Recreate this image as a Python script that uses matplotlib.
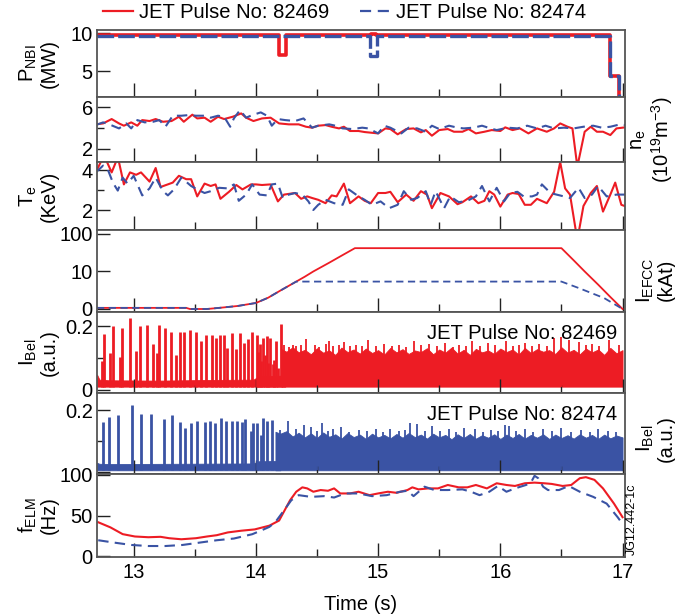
import numpy as np
import matplotlib
matplotlib.use('Agg')
import matplotlib.pyplot as plt
from matplotlib.lines import Line2D
from matplotlib.ticker import MultipleLocator, FixedLocator

plt.rcParams['font.family'] = ['Liberation Sans', 'DejaVu Sans']
plt.rcParams['mathtext.fontset'] = 'custom'
plt.rcParams['mathtext.rm'] = 'Liberation Sans'
plt.rcParams['mathtext.it'] = 'Liberation Sans:italic'

RED = '#ed1c24'
BLUE = '#3a53a4'
FS = 14.5

# ---------------- P_NBI (MW), step traces ----------------
pnbi_t_a = [12.70, 14.19, 14.25, 14.945, 14.985, 16.90, 16.97, 17.03]
pnbi_v_a = [9.7, 7.1, 9.7, 9.85, 9.7, 4.3, 1.0, 1.0]
pnbi_t_b = [12.70, 14.93, 14.99, 16.90, 16.97, 17.03]
pnbi_v_b = [9.55, 7.0, 9.55, 4.3, 1.0, 1.0]

# ---------------- n_e (1e19 m^-3) ----------------
ne_t_a = [12.69, 12.75, 12.82, 12.88, 12.92, 12.98, 13.03, 13.07, 13.13, 13.18,
          13.24, 13.31, 13.37, 13.41, 13.48, 13.52, 13.58, 13.63, 13.69, 13.74,
          13.81, 13.88, 13.92, 13.98, 14.05, 14.12, 14.19, 14.27, 14.35, 14.41,
          14.46, 14.51, 14.57, 14.62, 14.68, 14.72, 14.77, 14.84, 14.89, 15.00,
          15.06, 15.10, 15.16, 15.23, 15.29, 15.35, 15.39, 15.44, 15.50, 15.57,
          15.62, 15.69, 15.74, 15.80, 15.87, 15.93, 16.00, 16.04, 16.10, 16.16,
          16.23, 16.30, 16.38, 16.44, 16.49, 16.55, 16.59, 16.63, 16.69, 16.74,
          16.79, 16.84, 16.90, 16.95, 17.02]
ne_v_a = [4.37, 4.46, 4.88, 4.46, 4.24, 4.56, 4.24, 4.78, 4.69, 4.88,
          4.62, 4.69, 5.10, 4.62, 5.30, 4.94, 5.01, 4.62, 5.10, 4.88,
          5.10, 5.42, 5.01, 4.69, 4.94, 5.01, 4.46, 4.37, 4.37, 4.14,
          4.05, 4.24, 4.30, 4.14, 3.98, 4.14, 3.73, 3.73, 3.63, 3.50,
          3.98, 3.92, 3.41, 3.92, 3.98, 3.60, 3.82, 3.28, 3.82, 3.92,
          3.66, 3.66, 3.92, 3.50, 3.66, 3.82, 3.73, 4.08, 3.82, 3.98,
          3.50, 3.98, 3.66, 3.98, 4.46, 4.14, 3.98, 0.30, 3.66, 4.14,
          3.66, 3.66, 3.34, 3.98, 4.08]
ne_t_b = [12.69, 12.75, 12.80, 12.88, 12.94, 12.98, 13.03, 13.09, 13.16, 13.21,
          13.26, 13.32, 13.39, 13.45, 13.51, 13.58, 13.63, 13.69, 13.74, 13.79,
          13.82, 13.87, 13.92, 13.97, 14.04, 14.09, 14.13, 14.18, 14.24, 14.32,
          14.39, 14.46, 14.51, 14.60, 14.65, 14.71, 14.79, 14.87, 14.92, 15.00,
          15.05, 15.10, 15.19, 15.25, 15.32, 15.39, 15.44, 15.50, 15.58, 15.65,
          15.70, 15.78, 15.85, 15.92, 15.97, 16.06, 16.14, 16.22, 16.30, 16.37,
          16.44, 16.52, 16.60, 16.68, 16.76, 16.83, 16.90, 16.98, 17.02]
ne_v_b = [4.30, 4.56, 4.37, 3.98, 4.46, 3.98, 4.78, 4.56, 4.62, 4.78,
          4.14, 5.20, 5.20, 5.26, 5.20, 5.20, 5.01, 5.20, 5.10, 4.14,
          4.94, 5.74, 5.01, 5.26, 5.52, 5.20, 4.24, 4.88, 4.78, 4.69,
          4.94, 4.05, 4.24, 4.37, 4.24, 3.98, 3.92, 4.05, 3.98, 3.50,
          4.24, 4.05, 3.50, 4.05, 3.98, 3.66, 4.24, 3.92, 4.24, 4.05,
          3.98, 4.05, 4.24, 3.98, 3.82, 4.05, 3.98, 4.24, 3.98, 4.24,
          3.98, 4.05, 3.98, 4.14, 4.24, 4.05, 4.14, 4.37, 4.30]

# ---------------- T_e (keV) ----------------
te_t_a = [12.69, 12.73, 12.77, 12.82, 12.86, 12.88, 12.92, 12.97, 13.02, 13.06,
          13.13, 13.18, 13.22, 13.32, 13.37, 13.43, 13.47, 13.52, 13.58, 13.63,
          13.67, 13.71, 13.78, 13.84, 13.89, 13.96, 14.00, 14.05, 14.12, 14.18,
          14.23, 14.32, 14.37, 14.42, 14.46, 14.51, 14.57, 14.62, 14.66, 14.72,
          14.77, 14.84, 14.89, 14.94, 15.00, 15.06, 15.10, 15.16, 15.23, 15.29,
          15.35, 15.40, 15.44, 15.51, 15.58, 15.65, 15.69, 15.76, 15.82, 15.87,
          15.91, 15.95, 16.00, 16.06, 16.10, 16.15, 16.20, 16.25, 16.30, 16.38,
          16.44, 16.49, 16.53, 16.57, 16.63, 16.68, 16.74, 16.79, 16.84, 16.90,
          16.94, 16.99, 17.03]
te_v_a = [3.88, 4.39, 4.56, 3.88, 4.48, 4.39, 3.28, 3.88, 3.76, 3.88,
          3.42, 4.10, 3.15, 3.37, 3.71, 3.54, 3.54, 2.68, 3.32, 3.20,
          3.28, 2.56, 2.91, 3.25, 3.03, 3.28, 3.28, 3.25, 3.28, 2.43,
          2.77, 2.85, 2.56, 2.68, 2.60, 2.51, 2.34, 2.73, 2.68, 3.32,
          2.34, 2.68, 2.46, 2.34, 2.85, 2.85, 2.91, 2.39, 2.77, 2.46,
          2.94, 2.77, 2.09, 2.85, 2.68, 2.29, 2.39, 2.68, 2.34, 2.46,
          2.94, 2.77, 2.17, 2.77, 2.85, 2.80, 2.26, 2.26, 2.56, 2.34,
          2.91, 4.39, 3.08, 2.77, 0.50, 2.20, 2.85, 3.20, 1.92, 2.77,
          3.37, 2.26, 2.17]
te_t_b = [12.69, 12.75, 12.79, 12.83, 12.87, 12.91, 12.95, 13.00, 13.07, 13.13,
          13.18, 13.24, 13.28, 13.33, 13.39, 13.47, 13.52, 13.58, 13.63, 13.70,
          13.77, 13.82, 13.86, 13.92, 13.97, 14.03, 14.09, 14.13, 14.18, 14.22,
          14.27, 14.32, 14.38, 14.43, 14.47, 14.51, 14.57, 14.64, 14.71, 14.76,
          14.84, 14.89, 14.95, 15.02, 15.09, 15.16, 15.21, 15.27, 15.32, 15.39,
          15.43, 15.47, 15.54, 15.59, 15.66, 15.73, 15.80, 15.85, 15.91, 15.97,
          16.03, 16.08, 16.14, 16.19, 16.26, 16.30, 16.34, 16.41, 16.46, 16.52,
          16.57, 16.64, 16.69, 16.75, 16.80, 16.87, 16.95, 17.02]
te_v_b = [3.88, 4.22, 4.00, 3.37, 2.97, 3.62, 3.32, 3.71, 2.73, 3.08,
          3.62, 2.94, 2.73, 3.03, 3.62, 3.20, 3.03, 2.85, 2.94, 3.11,
          3.08, 3.28, 2.46, 2.77, 3.28, 2.77, 2.73, 3.28, 3.32, 2.60,
          2.77, 2.85, 2.77, 2.43, 2.00, 2.26, 2.51, 2.34, 2.26, 3.03,
          2.68, 2.51, 2.26, 2.43, 2.09, 2.26, 2.94, 2.51, 2.60, 2.94,
          2.26, 2.94, 2.09, 2.68, 2.39, 2.46, 2.68, 3.20, 2.43, 3.11,
          2.43, 2.85, 2.91, 2.68, 2.68, 2.77, 3.28, 2.85, 2.77, 2.68,
          2.60, 3.11, 2.60, 2.77, 3.20, 2.68, 2.77, 2.77]

# ---------------- I_EFCC (kAt) ----------------
efcc_t_a = [12.70, 13.43, 13.46, 13.60, 13.70, 13.85, 14.00, 14.10, 14.20, 14.33,
            14.40, 14.47, 14.60, 14.70, 14.81, 16.50, 16.60, 16.69, 16.80, 16.90, 17.00]
efcc_v_a = [0.3, 0.3, 0.0, 0.0, 0.3, 0.8, 1.6, 3.0, 4.9, 7.3,
            8.6, 10.0, 17.1, 26.2, 41.7, 41.7, 19.8, 10.0, 6.5, 3.2, 0.0]
efcc_t_b = [12.70, 13.43, 13.46, 13.60, 13.70, 13.85, 14.00, 14.10, 14.20, 14.33,
            16.50, 16.64, 16.85, 17.00]
efcc_v_b = [0.3, 0.3, 0.0, 0.0, 0.3, 0.8, 1.6, 3.0, 4.9, 7.3,
            7.3, 5.6, 2.9, 0.0]

# ---------------- I_Bel (a.u.) ----------------
# isolated type-I ELM spikes
elm_t_a = [12.742, 12.758, 12.804, 12.831, 12.889, 12.905, 12.970, 13.016, 13.052, 13.111,
           13.155, 13.188, 13.209, 13.256, 13.305, 13.348, 13.378, 13.413, 13.459, 13.508,
           13.549, 13.595, 13.639, 13.672, 13.704, 13.742, 13.767, 13.802, 13.840, 13.867,
           13.903, 13.933, 13.965, 14.006, 14.030, 14.058, 14.088, 14.115, 14.161, 14.202,
           14.015, 14.045, 14.075, 14.100, 14.140, 14.150, 14.180]
elm_v_a = [0.092, 0.176, 0.116, 0.200, 0.102, 0.195, 0.226, 0.123, 0.200, 0.203,
           0.144, 0.116, 0.205, 0.195, 0.181, 0.111, 0.182, 0.182, 0.189, 0.182,
           0.155, 0.172, 0.172, 0.163, 0.172, 0.174, 0.132, 0.179, 0.129, 0.179,
           0.147, 0.161, 0.182, 0.172, 0.144, 0.163, 0.168, 0.163, 0.153, 0.207,
           0.120, 0.090, 0.110, 0.085, 0.080, 0.095, 0.070]
elm_t_b = [12.753, 12.802, 12.872, 12.984, 13.057, 13.144, 13.245, 13.310, 13.375, 13.424,
           13.473, 13.522, 13.585, 13.628, 13.666, 13.718, 13.759, 13.808, 13.848, 13.884,
           13.914, 13.960, 13.976, 14.011, 14.039, 14.060, 14.090, 14.134]
elm_v_b = [0.162, 0.178, 0.183, 0.216, 0.187, 0.187, 0.170, 0.184, 0.162, 0.143,
           0.157, 0.166, 0.162, 0.166, 0.157, 0.176, 0.166, 0.166, 0.166, 0.162,
           0.172, 0.133, 0.157, 0.159, 0.119, 0.174, 0.166, 0.168]

# baseline band before the dense phase
base_t_a = [12.70, 12.72, 12.80, 13.20, 13.60, 13.98, 14.02, 14.24]
base_v_a = [0.048, 0.032, 0.030, 0.029, 0.031, 0.032, 0.042, 0.045]
base_t_b = [12.70, 12.72, 12.80, 13.40, 13.98, 14.02, 14.20]
base_v_b = [0.030, 0.027, 0.026, 0.027, 0.028, 0.035, 0.036]
floor_a = 0.010
floor_b = 0.006

# upper envelope of the dense small-ELM phase
dense_t_a = [14.21, 14.25, 14.30, 14.35, 14.40, 14.45, 14.50, 14.55, 14.60, 14.65,
             14.70, 14.75, 14.80, 14.85, 14.90, 14.95, 15.00, 15.05, 15.10, 15.15,
             15.20, 15.25, 15.30, 15.35, 15.40, 15.45, 15.50, 15.55, 15.60, 15.65,
             15.70, 15.75, 15.80, 15.85, 15.90, 15.95, 16.00, 16.05, 16.10, 16.15,
             16.20, 16.25, 16.30, 16.35, 16.40, 16.45, 16.50, 16.55, 16.60, 16.65,
             16.70, 16.75, 16.80, 16.85, 16.90, 16.95, 17.00]
dense_v_a = [0.128, 0.120, 0.134, 0.118, 0.126, 0.112, 0.131, 0.117, 0.124, 0.110,
             0.133, 0.119, 0.127, 0.114, 0.130, 0.116, 0.125, 0.111, 0.132, 0.118,
             0.128, 0.113, 0.124, 0.119, 0.131, 0.112, 0.127, 0.117, 0.133, 0.114,
             0.126, 0.110, 0.129, 0.118, 0.124, 0.113, 0.130, 0.119, 0.127, 0.111,
             0.132, 0.116, 0.128, 0.120, 0.125, 0.113, 0.134, 0.117, 0.126, 0.112,
             0.130, 0.118, 0.127, 0.110, 0.132, 0.115, 0.125]
dense_t_b = [14.16, 14.20, 14.25, 14.30, 14.35, 14.40, 14.45, 14.50, 14.55, 14.60,
             14.65, 14.70, 14.75, 14.80, 14.85, 14.90, 14.95, 15.00, 15.05, 15.10,
             15.15, 15.20, 15.25, 15.30, 15.35, 15.40, 15.45, 15.50, 15.55, 15.60,
             15.65, 15.70, 15.75, 15.80, 15.85, 15.90, 15.95, 16.00, 16.05, 16.10,
             16.15, 16.20, 16.25, 16.30, 16.35, 16.40, 16.45, 16.50, 16.55, 16.60,
             16.65, 16.70, 16.75, 16.80, 16.85, 16.90, 16.95, 17.00]
dense_v_b = [0.130, 0.124, 0.132, 0.115, 0.127, 0.112, 0.125, 0.110, 0.128, 0.114,
             0.122, 0.108, 0.126, 0.113, 0.121, 0.107, 0.124, 0.112, 0.120, 0.109,
             0.123, 0.111, 0.126, 0.113, 0.121, 0.108, 0.124, 0.112, 0.120, 0.106,
             0.122, 0.110, 0.123, 0.108, 0.119, 0.111, 0.122, 0.107, 0.121, 0.110,
             0.123, 0.108, 0.120, 0.111, 0.122, 0.107, 0.121, 0.110, 0.119, 0.108,
             0.122, 0.111, 0.120, 0.107, 0.121, 0.109, 0.118, 0.112]
peak_t_a = [14.23, 14.27, 14.30, 14.33, 14.37, 14.41, 14.48, 14.52, 14.57, 14.60,
            14.63, 14.68, 14.72, 14.77, 14.82, 14.87, 14.92, 14.98, 15.05, 15.11,
            15.17, 15.23, 15.29, 15.35, 15.42, 15.48, 15.55, 15.61, 15.66, 15.72,
            15.77, 15.83, 15.90, 15.96, 16.05, 16.10, 16.15, 16.20, 16.26, 16.32,
            16.38, 16.44, 16.50, 16.56, 16.64, 16.70, 16.75, 16.81, 16.89, 16.97]
peak_v_a = [0.140, 0.135, 0.140, 0.138, 0.142, 0.160, 0.140, 0.136, 0.144, 0.155,
            0.138, 0.142, 0.150, 0.137, 0.141, 0.138, 0.158, 0.137, 0.145, 0.139,
            0.142, 0.136, 0.153, 0.140, 0.145, 0.138, 0.148, 0.136, 0.142, 0.139,
            0.153, 0.137, 0.146, 0.140, 0.155, 0.138, 0.141, 0.147, 0.137, 0.143,
            0.139, 0.162, 0.167, 0.157, 0.150, 0.140, 0.145, 0.139, 0.157, 0.140]
peak_t_b = [14.20, 14.26, 14.33, 14.39, 14.45, 14.50, 14.54, 14.59, 14.63, 14.70,
            14.76, 14.84, 14.91, 14.98, 15.04, 15.10, 15.17, 15.22, 15.26, 15.32,
            15.38, 15.44, 15.51, 15.58, 15.64, 15.70, 15.79, 15.86, 15.92, 15.98,
            16.04, 16.07, 16.13, 16.20, 16.27, 16.35, 16.42, 16.50, 16.58, 16.66,
            16.73, 16.80, 16.88, 16.95]
peak_v_b = [0.135, 0.166, 0.140, 0.152, 0.146, 0.133, 0.157, 0.132, 0.140, 0.144,
            0.130, 0.135, 0.131, 0.138, 0.130, 0.140, 0.131, 0.136, 0.158, 0.155,
            0.131, 0.150, 0.133, 0.138, 0.130, 0.142, 0.140, 0.129, 0.137, 0.132,
            0.152, 0.150, 0.131, 0.140, 0.130, 0.138, 0.132, 0.142, 0.130, 0.136,
            0.129, 0.140, 0.131, 0.130]

# ---------------- f_ELM (Hz) ----------------
felm_t_a = [12.71, 12.81, 12.91, 13.01, 13.12, 13.22, 13.29, 13.39, 13.51, 13.60,
            13.68, 13.77, 13.88, 13.99, 14.11, 14.19, 14.28, 14.33, 14.38, 14.42,
            14.47, 14.53, 14.59, 14.64, 14.69, 14.77, 14.84, 14.93, 15.00, 15.08,
            15.15, 15.24, 15.28, 15.33, 15.41, 15.49, 15.57, 15.66, 15.73, 15.80,
            15.89, 15.97, 16.05, 16.12, 16.20, 16.28, 16.36, 16.42, 16.51, 16.58,
            16.65, 16.70, 16.77, 16.84, 16.93, 17.00]
felm_v_a = [41.7, 35.4, 27.1, 24.2, 23.3, 23.8, 22.1, 20.8, 22.1, 24.2,
            25.8, 29.2, 31.3, 32.9, 37.5, 43.8, 68.8, 79.2, 84.6, 83.3,
            79.2, 81.3, 80.4, 83.3, 77.1, 77.1, 79.2, 75.0, 77.1, 79.2,
            77.9, 81.3, 84.6, 82.1, 83.3, 83.3, 87.5, 84.6, 84.6, 87.5,
            83.3, 89.6, 87.5, 86.3, 89.6, 90.4, 89.6, 88.8, 86.3, 87.5,
            95.8, 97.1, 93.8, 83.3, 64.6, 47.9]
felm_t_b = [12.71, 12.84, 12.98, 13.12, 13.26, 13.40, 13.54, 13.68, 13.82, 13.97,
            14.05, 14.11, 14.16, 14.23, 14.29, 14.35, 14.45, 14.56, 14.64, 14.73,
            14.84, 14.95, 15.07, 15.18, 15.24, 15.29, 15.38, 15.46, 15.57, 15.69,
            15.76, 15.83, 15.91, 15.98, 16.05, 16.12, 16.21, 16.25, 16.28, 16.31,
            16.35, 16.39, 16.48, 16.56, 16.65, 16.76, 16.87, 16.96, 17.00]
felm_v_b = [19.6, 16.7, 13.8, 12.5, 12.5, 13.8, 16.7, 19.6, 21.7, 27.0,
            32.0, 36.0, 42.0, 56.3, 68.8, 75.0, 72.9, 73.8, 72.1, 77.1,
            77.1, 73.8, 75.0, 79.2, 80.4, 73.8, 85.4, 81.3, 81.3, 82.1,
            79.2, 75.0, 79.2, 86.3, 79.2, 83.3, 87.5, 90.4, 98.8, 95.8,
            85.4, 81.3, 81.3, 86.3, 79.2, 72.9, 64.6, 47.9, 39.6]

pulse_a = 'JET Pulse No: 82469'
pulse_b = 'JET Pulse No: 82474'

# ---------------- layout ----------------
W, H = 675, 616
x0, x1 = 97, 625
rows = [(30, 97), (97, 162), (162, 230), (230, 312), (312, 393), (393, 474), (474, 557)]

fig = plt.figure(figsize=(W / 100, H / 100), dpi=100)
axes = []
for top, bot in rows:
    axes.append(fig.add_axes([x0 / W, 1 - bot / H, (x1 - x0) / W, (bot - top) / H]))


def style(ax):
    ax.set_xlim(12.7, 17.02)
    ax.xaxis.set_major_locator(MultipleLocator(1))
    ax.xaxis.set_minor_locator(MultipleLocator(0.5))
    ax.tick_params(axis='x', which='both', direction='in', bottom=True, top=False,
                   labelbottom=False, color='#222222', width=1.0)
    ax.tick_params(axis='x', which='major', length=10)
    ax.tick_params(axis='x', which='minor', length=6)
    ax.tick_params(axis='y', which='both', direction='in', left=True, right=False,
                   labelsize=FS, pad=3, color='#222222', width=1.0)
    ax.tick_params(axis='y', which='major', length=9)
    ax.tick_params(axis='y', which='minor', length=5)
    for s in ax.spines.values():
        s.set_color('#555555')
        s.set_linewidth(1.3)


def ylab(ax, text, x, y=0.5):
    ax.text(x, y, text, transform=ax.transAxes, rotation=90, ha='center', va='center',
            fontsize=FS, linespacing=1.05, multialignment='center')


for ax in axes:
    style(ax)

dash = (0, (5, 3))

# P_NBI
ax = axes[0]
ax.plot(pnbi_t_a, pnbi_v_a, color=RED, lw=2.6, drawstyle='steps-post')
ax.plot(pnbi_t_b, pnbi_v_b, color=BLUE, lw=2.4, drawstyle='steps-post', linestyle=(0, (5, 1.2)))
ax.set_ylim(1.6, 10.4)
ax.set_yticks([5, 10], ['5', '10'])
ylab(ax, 'P$_\\mathrm{NBI}$\n(MW)', -0.112)

# n_e
ax = axes[1]
ax.plot(ne_t_a, ne_v_a, color=RED, lw=1.5)
ax.plot(ne_t_b, ne_v_b, color=BLUE, lw=1.5, linestyle=dash)
ax.set_ylim(0.75, 7.0)
ax.set_yticks([2, 6], ['2', '6'])
ax.yaxis.set_minor_locator(FixedLocator([4]))
ylab(ax, 'n$_\\mathrm{e}$\n(10$^\\mathrm{19}$m$^\\mathrm{-3}$)', 1.051, 0.34)

# T_e
ax = axes[2]
ax.plot(te_t_a, te_v_a, color=RED, lw=1.5)
ax.plot(te_t_b, te_v_b, color=BLUE, lw=1.5, linestyle=dash)
ax.set_ylim(1.0, 4.4)
ax.set_yticks([2, 4], ['2', '4'])
ax.yaxis.set_minor_locator(FixedLocator([3]))
ylab(ax, 'T$_\\mathrm{e}$\n(KeV)', -0.112)

# I_EFCC
ax = axes[3]
ax.set_yscale('symlog', linthresh=10, linscale=0.9)
ax.plot(efcc_t_a, efcc_v_a, color=RED, lw=1.3)
ax.plot(efcc_t_b, efcc_v_b, color=BLUE, lw=1.3, linestyle=(0, (4, 2.5)))
ax.set_ylim(-0.8, 127)
ax.set_yticks([0, 10, 100], ['0', '10', '100'])
ax.yaxis.set_minor_locator(FixedLocator([]))
ylab(ax, 'I$_\\mathrm{EFCC}$\n(kAt)', 1.057, 0.39)

# I_Bel, two pulses
for ax, bt, bv, fl, et, ev, dt, dv, pt, pv, col, lab in [
        (axes[4], base_t_a, base_v_a, floor_a, elm_t_a, elm_v_a, dense_t_a, dense_v_a,
         peak_t_a, peak_v_a, RED, pulse_a),
        (axes[5], base_t_b, base_v_b, floor_b, elm_t_b, elm_v_b, dense_t_b, dense_v_b,
         peak_t_b, peak_v_b, BLUE, pulse_b)]:
    ax.fill_between(bt, fl, bv, color=col, lw=0.6, edgecolor=col)
    ax.fill_between(dt, fl, dv, color=col, lw=0.6, edgecolor=col)
    ax.vlines(et, fl, ev, color=col, lw=2.0)
    ax.vlines(pt, fl, pv, color=col, lw=1.3)
    ax.set_yticks([0, 0.2], ['0', '0.2'])
    ax.yaxis.set_minor_locator(FixedLocator([0.1]))
    ax.text(0.985, 0.74, lab, transform=ax.transAxes, ha='right', va='center', fontsize=FS)

axes[4].set_ylim(-0.01, 0.245)
axes[5].set_ylim(-0.006, 0.255)
axes[5].set_yticks([0, 0.2], ['', '0.2'])
ylab(axes[4], 'I$_\\mathrm{Bel}$\n(a.u.)', -0.112)
ylab(axes[5], 'I$_\\mathrm{Bel}$\n(a.u.)', 1.057, 0.44)

# f_ELM
ax = axes[6]
ax.plot(felm_t_a, felm_v_a, color=RED, lw=1.5)
ax.plot(felm_t_b, felm_v_b, color=BLUE, lw=1.5, linestyle=dash)
ax.set_ylim(-1, 101)
ax.set_yticks([0, 50, 100], ['0', '50', '100'])
ax.tick_params(axis='x', labelbottom=True, labelsize=FS, pad=4)
ax.set_xlabel('Time (s)', fontsize=FS, labelpad=10)
ylab(ax, 'f$_\\mathrm{ELM}$\n(Hz)', -0.112)
ax.text(1.013, 0.45, 'JG12.442-1c', transform=ax.transAxes, rotation=90,
        ha='center', va='center', fontsize=9)

# legend on top
handles = [Line2D([], [], color=RED, lw=1.6),
           Line2D([], [], color=BLUE, lw=1.6, linestyle=dash)]
fig.legend(handles, [pulse_a, pulse_b], loc='upper left', bbox_to_anchor=(93 / W, 1.012),
           ncol=2, frameon=False, fontsize=FS, handlelength=1.5, handletextpad=0.3,
           columnspacing=1.5, borderaxespad=0.1)

fig.savefig('out.png', dpi=100)
